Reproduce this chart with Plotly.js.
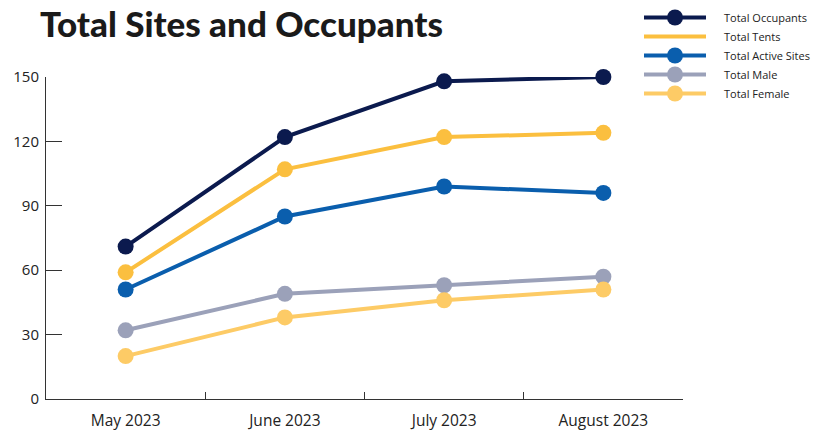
<!DOCTYPE html>
<html>
<head>
<meta charset="utf-8">
<script src="https://cdn.plot.ly/plotly-3.0.1.min.js"></script>
<style>html,body{margin:0;padding:0;background:#fff}#chart{width:820px;height:432px}</style>
</head>
<body>
<div id="chart"></div>
<script>
const months = ["May 2023", "June 2023", "July 2023", "August 2023"];
const totalOccupants = [71, 122, 148, 150];
const totalTents = [59, 107, 122, 124];
const totalActiveSites = [51, 85, 99, 96];
const totalMale = [32, 49, 53, 57];
const totalFemale = [20, 38, 46, 51];
const yTicks = [0, 30, 60, 90, 120, 150];

const series = [
  {name: "Total Occupants", y: totalOccupants, color: "#0b1a4e"},
  {name: "Total Tents", y: totalTents, color: "#fbbf3f"},
  {name: "Total Active Sites", y: totalActiveSites, color: "#0a5ead"},
  {name: "Total Male", y: totalMale, color: "#9ba1b9"},
  {name: "Total Female", y: totalFemale, color: "#fdcb66"}
];

const traces = series.map((s, i) => ({
  type: "scatter", mode: "lines+markers", x: months, y: s.y, name: s.name,
  line: {color: s.color, width: 4}, marker: {color: s.color, size: 16},
  cliponaxis: false, legendrank: i + 1,
  showlegend: s.name !== "Total Tents"
}));
// legend entry for tents drawn as a plain line, as in the reference
traces.push({type: "scatter", mode: "lines", x: [null], y: [null], name: "Total Tents",
  line: {color: "#fbbf3f", width: 4}, legendrank: 2, showlegend: true, hoverinfo: "skip"});

const layout = {
  width: 820, height: 432,
  margin: {l: 46, r: 137, t: 77, b: 33, autoexpand: false},
  paper_bgcolor: "#fff", plot_bgcolor: "#fff",
  title: {text: "Total Sites and Occupants", x: 40/820, xanchor: "left", y: 1 - 25/432, yanchor: "middle",
    font: {family: "Lato, Inter, sans-serif", size: 35, color: "#1a1a1a", weight: 900}},
  showlegend: true,
  legend: {x: 639/820, xanchor: "left", y: 1 - 3/432, yanchor: "top", xref: "container", yref: "container",
    font: {family: "Open Sans, sans-serif", size: 11, color: "#222"},
    itemwidth: 62, tracegroupgap: 0, traceorder: "normal", bgcolor: "rgba(0,0,0,0)"},
  xaxis: {type: "category", range: [-0.5, 3.5], showline: true, linecolor: "#333", linewidth: 1,
    ticks: "inside", ticklen: 7, tickcolor: "#333", tickson: "boundaries", showgrid: false, zeroline: false,
    tickfont: {family: "Open Sans, sans-serif", size: 15.5, color: "#222"}, ticklabelstandoff: 7, fixedrange: true},
  yaxis: {range: [0, 150], tickvals: yTicks, showline: true, linecolor: "#333", linewidth: 1,
    ticks: "inside", ticklen: 16, tickcolor: "#333", showgrid: false, zeroline: false,
    tickfont: {family: "Open Sans, sans-serif", size: 15, color: "#222"}, ticklabelstandoff: 3, fixedrange: true}
};

Plotly.newPlot("chart", traces, layout, {displayModeBar: false, staticPlot: true}).then(() => {
  // widen the gap between legend symbol and label, as in the reference
  document.querySelectorAll("#chart .legend .legendtext").forEach(t => {
    t.setAttribute("x", parseFloat(t.getAttribute("x") || 0) + 13);
  });
  document.querySelectorAll("#chart .legend, #chart .legend *").forEach(el => {
    el.removeAttribute("clip-path");
  });
});
</script>
</body>
</html>
